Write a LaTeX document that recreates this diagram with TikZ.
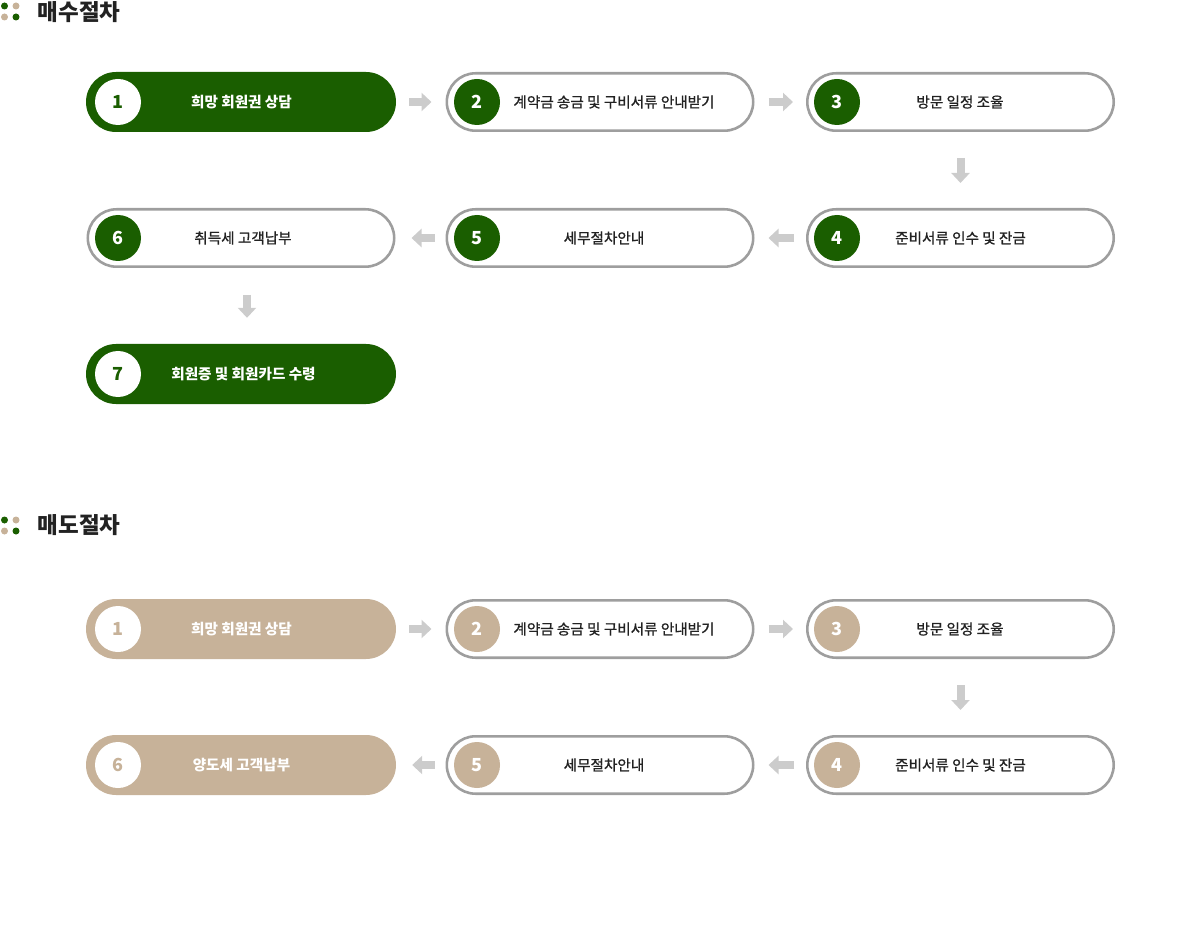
\documentclass[tikz,border=0pt]{standalone}
\usepackage{fontspec}
\setmainfont{Noto Sans CJK KR}
\newfontfamily\krmed{Noto Sans CJK KR}[FakeBold=1]
\usetikzlibrary{arrows.meta,calc}
\definecolor{dgreen}{HTML}{1A5E00}
\definecolor{tan}{HTML}{C7B299}
\definecolor{pgray}{HTML}{9E9E9E}
\definecolor{agray}{HTML}{CCCCCC}
\definecolor{ink}{HTML}{222222}
\tikzset{
  pillfill/.style={fill=#1, draw=none, rounded corners=30pt, minimum width=310pt, minimum height=60pt, inner sep=0pt},
  pillline/.style={fill=white, draw=pgray, line width=2.6pt, rounded corners=28.7pt, minimum width=306.4pt, minimum height=57.4pt, inner sep=0pt},
  numc/.style={circle, fill=#1, draw=none, minimum size=46pt, inner sep=0pt, font=\bfseries\fontsize{18}{18}\selectfont, text=white},
  numw/.style={circle, fill=white, draw=none, minimum size=46pt, inner sep=0pt, font=\bfseries\fontsize{18}{18}\selectfont, text=#1},
  ptext/.style={font=\krmed\fontsize{14.6}{14.6}\selectfont, text=#1, inner sep=0pt},
  btext/.style={font=\bfseries\fontsize{14.6}{14.6}\selectfont, text=#1, inner sep=0pt},
  barrow/.style={draw=agray, line width=8pt, -{Triangle[width=18pt,length=10pt]}},
  hdr/.style={font=\bfseries\fontsize{22.5}{22.5}\selectfont, text=ink, anchor=west, inner sep=0pt},
  dot/.style={circle, fill=#1, draw=none, minimum size=7pt, inner sep=0pt},
}
\begin{document}
\begin{tikzpicture}[x=1pt,y=-1pt]
\useasboundingbox (0,0) rectangle (1200,933);
% ===== header 1 =====
\node[dot=dgreen] (d1a) at (4.5,6) {};
\node[dot=tan] (d1b) at (16,6) {};
\node[dot=tan] (d1c) at (4.5,17) {};
\node[dot=dgreen] (d1d) at (16,17) {};
\node[hdr] (h1) at (37.5,12.5) {매수절차};
% ===== section 1 =====
\node[pillfill=dgreen] (a1) at (241,102) {};
\node[numw=dgreen] (a1n) at (118,102) {1};
\node[btext=white] (a1t) at (241.5,102) {희망 회원권 상담};

\node[pillline] (a2) at (600,102) {};
\node[numc=dgreen] (a2n) at (477,102) {2};
\node[ptext=ink] (a2t) at (614,102) {계약금 송금 및 구비서류 안내받기};

\node[pillline] (a3) at (960.5,102) {};
\node[numc=dgreen] (a3n) at (837,102) {3};
\node[ptext=ink] (a3t) at (960,102) {방문 일정 조율};

\node[pillline] (a4) at (960.5,238) {};
\node[numc=dgreen] (a4n) at (837,238) {4};
\node[ptext=ink] (a4t) at (960.5,238) {준비서류 인수 및 잔금};

\node[pillline] (a5) at (600,238) {};
\node[numc=dgreen] (a5n) at (477,238) {5};
\node[ptext=ink] (a5t) at (604,238) {세무절차안내};

\node[pillline] (a6) at (241,238) {};
\node[numc=dgreen] (a6n) at (118,238) {6};
\node[ptext=ink] (a6t) at (243,238) {취득세 고객납부};

\node[pillfill=dgreen] (a7) at (241,374) {};
\node[numw=dgreen] (a7n) at (118,374) {7};
\node[btext=white] (a7t) at (243.5,374) {회원증 및 회원카드 수령};

\draw[barrow, shorten <=13pt, shorten >=14pt] (a1.east) -- (a2.west);
\draw[barrow, shorten <=14pt, shorten >=13pt] (a2.east) -- (a3.west);
\draw[barrow, shorten <=26pt, shorten >=25pt] (a3.south) -- (a4.north);
\draw[barrow, shorten <=12pt, shorten >=14pt] (a4.west) -- (a5.east);
\draw[barrow, shorten <=11pt, shorten >=16pt] (a5.west) -- (a6.east);
\draw[barrow, shorten <=27pt, shorten >=26pt] ($(a6.south)+(6,0)$) -- ($(a7.north)+(6,0)$);

% ===== header 2 =====
\node[dot=dgreen] (d2a) at (4.5,520) {};
\node[dot=tan] (d2b) at (16,520) {};
\node[dot=tan] (d2c) at (4.5,531) {};
\node[dot=dgreen] (d2d) at (16,531) {};
\node[hdr] (h2) at (37.5,525.5) {매도절차};
% ===== section 2 =====
\node[pillfill=tan] (b1) at (241,629) {};
\node[numw=tan] (b1n) at (118,629) {1};
\node[btext=white] (b1t) at (241.5,629) {희망 회원권 상담};

\node[pillline] (b2) at (600,629) {};
\node[numc=tan] (b2n) at (477,629) {2};
\node[ptext=ink] (b2t) at (614,629) {계약금 송금 및 구비서류 안내받기};

\node[pillline] (b3) at (960.5,629) {};
\node[numc=tan] (b3n) at (837,629) {3};
\node[ptext=ink] (b3t) at (960,629) {방문 일정 조율};

\node[pillline] (b4) at (960.5,765) {};
\node[numc=tan] (b4n) at (837,765) {4};
\node[ptext=ink] (b4t) at (960.5,765) {준비서류 인수 및 잔금};

\node[pillline] (b5) at (600,765) {};
\node[numc=tan] (b5n) at (477,765) {5};
\node[ptext=ink] (b5t) at (604,765) {세무절차안내};

\node[pillfill=tan] (b6) at (241,765) {};
\node[numw=tan] (b6n) at (118,765) {6};
\node[btext=white] (b6t) at (241.5,765) {양도세 고객납부};

\draw[barrow, shorten <=13pt, shorten >=14pt] (b1.east) -- (b2.west);
\draw[barrow, shorten <=14pt, shorten >=13pt] (b2.east) -- (b3.west);
\draw[barrow, shorten <=26pt, shorten >=25pt] (b3.south) -- (b4.north);
\draw[barrow, shorten <=12pt, shorten >=14pt] (b4.west) -- (b5.east);
\draw[barrow, shorten <=11pt, shorten >=16pt] (b5.west) -- (b6.east);
\end{tikzpicture}
\end{document}
